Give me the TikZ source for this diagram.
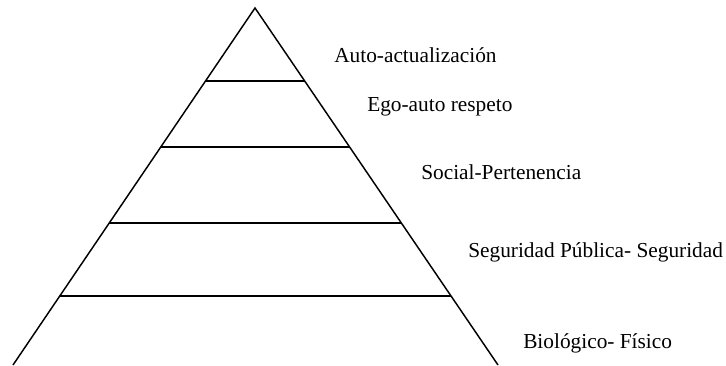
\documentclass[tikz,border=0pt]{standalone}
\usepackage{fontspec}
\setmainfont{Liberation Serif}
\usetikzlibrary{calc}
\begin{document}
\begin{tikzpicture}[x=0.75pt,y=-0.75pt,
  edge/.style={line width=1.1pt,line join=miter},
  lvl/.style={line width=1.1pt},
  lab/.style={anchor=base west,inner sep=0pt,font=\fontsize{16}{19}\selectfont}]
\useasboundingbox (0,0) rectangle (726,365);
\coordinate (apex) at (255,8);
\coordinate (bl) at (13,365);
\coordinate (br) at (498,365);
\begin{scope}
\clip (0,0) rectangle (726,365);
\draw[edge] (bl) -- (apex) -- (br);
\end{scope}
\foreach \t [count=\i] in {0.2045,0.389,0.6022,0.8067}{
  \coordinate (l\i) at ($(apex)!\t!(bl)$);
  \coordinate (r\i) at ($(apex)!\t!(br)$);
  \draw[lvl] (l\i) -- (r\i);
}
\node[lab] (t1) at (334,62) {Auto-actualización};
\node[lab] (t2) at (367,111) {Ego-auto respeto};
\node[lab] (t3) at (421,179) {Social-Pertenencia};
\node[lab] (t4) at (468,257) {Seguridad Pública- Seguridad};
\node[lab] (t5) at (523,348) {Biológico- Físico};
\end{tikzpicture}
\end{document}
